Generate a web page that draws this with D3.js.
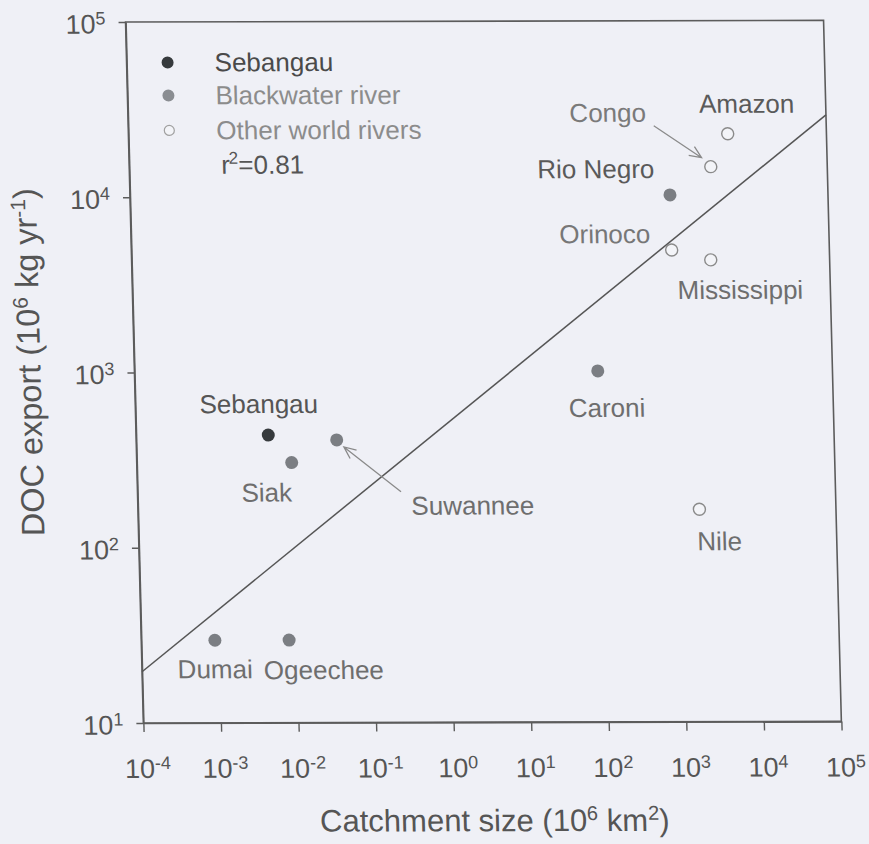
<!DOCTYPE html>
<html><head><meta charset="utf-8">
<script src="https://cdn.jsdelivr.net/npm/d3@7"></script>
<style>body{margin:0;background:#eff0f6}svg{display:block}</style>
</head><body>
<script>
// ---- data ----
const sebangauNames = ["Sebangau"];
const sebangauArea  = [0.00507];
const sebangauDOC   = [438];
const blackNames = ["Siak","Suwannee","Dumai","Ogeechee","Caroni","Rio Negro"];
const blackArea  = [0.00995, 0.0385, 0.00089, 0.00806, 94.2, 918];
const blackDOC   = [305, 410, 29.6, 29.6, 1007, 10140];
const otherNames = ["Congo","Amazon","Orinoco","Mississippi","Nile"];
const otherArea  = [3148, 5334, 926, 2931, 1734];
const otherDOC   = [14690, 22600, 4920, 4316, 163];
const fitArea = [1e-4, 1e5];
const fitDOC  = [19.6, 28900];
const xTickExp = [-4,-3,-2,-1,0,1,2,3,4,5];
const yTickExp = [1,2,3,4,5];
const legendLabels = ["Sebangau","Blackwater river","Other world rivers"];
const r2Value = "0.81";
const xTitle = ["Catchment size (10","6"," km","2",")"];
const yTitle = ["DOC export (10","6"," kg yr","-1",")"];

// ---- layout / style ----
const W = 869, H = 844;
const L = 143, R = 841, T = 22, B = 723;
const FONT = "'Liberation Sans', Arial, Helvetica, sans-serif";
const labelStyle = {
  "Sebangau":   {dx:-68, dy:-22, fill:"#555"},
  "Siak":       {dx:-51, dy:39, fill:"#6e6e6e"},
  "Suwannee":   {dx:73,  dy:75, fill:"#6e6e6e"},
  "Dumai":      {dx:-38, dy:38, fill:"#6e6e6e"},
  "Ogeechee":   {dx:-26, dy:39, fill:"#6e6e6e"},
  "Caroni":     {dx:-30, dy:46, fill:"#6e6e6e"},
  "Rio Negro":  {dx:-15, dy:-17, fill:"#5a5a5a", anchor:"end"},
  "Congo":      {dx:-140,dy:-45, fill:"#7a7a7a"},
  "Amazon":     {dx:-28, dy:-21, fill:"#5a5a5a"},
  "Orinoco":    {dx:-112,dy:-7, fill:"#777"},
  "Mississippi":{dx:-34, dy:39, fill:"#6e6e6e"},
  "Nile":       {dx:-3,  dy:41, fill:"#6e6e6e"}
};

const x = d3.scaleLog().domain([1e-4, 1e5]).range([L, R]);
const y = d3.scaleLog().domain([10, 1e5]).range([B, T]);

const svg = d3.select("body").append("svg").attr("width", W).attr("height", H);
svg.append("rect").attr("width", W).attr("height", H).attr("fill", "#eff0f6");

// slight scan distortion of the original figure
const g = svg.append("g")
  .attr("transform", "matrix(1,-0.0023,0.0254,1,-18,0.33)")
  .style("font-family", FONT);

// frame
g.append("rect").attr("x", L).attr("y", T).attr("width", R - L).attr("height", B - T)
  .attr("fill", "none").attr("stroke", "#5c5c5c").attr("stroke-width", 1.6);

// x axis
const xAxis = g.append("g").attr("transform", `translate(0,${B})`)
  .call(d3.axisBottom(x).tickValues(xTickExp.map(e => Math.pow(10, e)))
    .tickSize(9).tickSizeOuter(0).tickFormat(""));
xAxis.select(".domain").attr("stroke", "#5c5c5c").attr("stroke-width", 1.6);
xAxis.selectAll(".tick line").attr("stroke", "#5c5c5c").attr("stroke-width", 1.4);
xAxis.selectAll(".tick text").each(function(d, i) {
  const t = d3.select(this).text(null)
    .attr("y", 55).attr("dy", 0).attr("x", 3)
    .attr("text-anchor", "middle").attr("fill", "#555")
    .style("font-size", "27px").style("font-family", FONT);
  t.append("tspan").text("10");
  t.append("tspan").attr("dy", -9).style("font-size", "18px").text(String(xTickExp[i]));
});

// y axis
const yAxis = g.append("g").attr("transform", `translate(${L},0)`)
  .call(d3.axisLeft(y).tickValues(yTickExp.map(e => Math.pow(10, e)))
    .tickSize(7).tickSizeOuter(0).tickFormat(""));
yAxis.select(".domain").attr("stroke", "#5c5c5c").attr("stroke-width", 1.6);
yAxis.selectAll(".tick line").attr("stroke", "#5c5c5c").attr("stroke-width", 1.4);
yAxis.selectAll(".tick text").each(function(d, i) {
  const t = d3.select(this).text(null)
    .attr("x", -20).attr("y", 11).attr("dy", 0)
    .attr("text-anchor", "end").attr("fill", "#555")
    .style("font-size", "27px").style("font-family", FONT);
  t.append("tspan").text("10");
  t.append("tspan").attr("dy", -9).style("font-size", "18px").text(String(yTickExp[i]));
});

// axis titles
function supText(sel, parts, big, small, rise) {
  parts.forEach((p, i) => {
    const sup = i % 2 === 1;
    sel.append("tspan").text(p)
      .attr("dy", sup ? -rise : (i > 0 ? rise : null))
      .style("font-size", (sup ? small : big) + "px");
  });
}
const xt = g.append("text").attr("x", 492).attr("y", 832)
  .attr("text-anchor", "middle").attr("fill", "#555");
supText(xt, xTitle, 31, 20, 11);
const yt = g.append("text").attr("transform", "translate(49,362) rotate(-90)")
  .attr("text-anchor", "middle").attr("fill", "#555");
supText(yt, yTitle, 32.5, 21, 11);

// regression line
g.append("path")
  .datum(fitArea.map((a, i) => [a, fitDOC[i]]))
  .attr("d", d3.line().x(d => x(d[0])).y(d => y(d[1])))
  .attr("fill", "none").attr("stroke", "#555").attr("stroke-width", 1.5);

// points
const sebData = sebangauNames.map((n, i) => ({name: n, a: sebangauArea[i], v: sebangauDOC[i]}));
const blackData = blackNames.map((n, i) => ({name: n, a: blackArea[i], v: blackDOC[i]}));
const otherData = otherNames.map((n, i) => ({name: n, a: otherArea[i], v: otherDOC[i]}));

g.selectAll("circle.other").data(otherData).join("circle").attr("class", "other")
  .attr("cx", d => x(d.a)).attr("cy", d => y(d.v)).attr("r", 6)
  .attr("fill", "#f3f4f8").attr("stroke", "#8a8a8a").attr("stroke-width", 1.4);
g.selectAll("circle.black").data(blackData).join("circle").attr("class", "black")
  .attr("cx", d => x(d.a)).attr("cy", d => y(d.v)).attr("r", 6.5)
  .attr("fill", "#7b7e83");
g.selectAll("circle.seb").data(sebData).join("circle").attr("class", "seb")
  .attr("cx", d => x(d.a)).attr("cy", d => y(d.v)).attr("r", 6.5)
  .attr("fill", "#363a3d");

// point labels
g.selectAll("text.lab").data([...sebData, ...blackData, ...otherData]).join("text")
  .attr("class", "lab")
  .attr("x", d => x(d.a) + labelStyle[d.name].dx)
  .attr("y", d => y(d.v) + labelStyle[d.name].dy)
  .attr("text-anchor", d => labelStyle[d.name].anchor || "start")
  .attr("fill", d => labelStyle[d.name].fill)
  .style("font-size", "26px")
  .text(d => d.name);

// arrows (Congo, Suwannee)
function arrow(px, py, sx, sy, ex, ey) {
  const x0 = px + sx, y0 = py + sy, x1 = px + ex, y1 = py + ey;
  const ang = Math.atan2(y1 - y0, x1 - x0), len = 13, spread = 0.42;
  const a1 = [x1 - len * Math.cos(ang - spread), y1 - len * Math.sin(ang - spread)];
  const a2 = [x1 - len * Math.cos(ang + spread), y1 - len * Math.sin(ang + spread)];
  g.append("path")
    .attr("d", `M${x0},${y0}L${x1},${y1}M${a1[0]},${a1[1]}L${x1},${y1}L${a2[0]},${a2[1]}`)
    .attr("fill", "none").attr("stroke", "#8a8a8a").attr("stroke-width", 1.3);
}
const congo = otherData.find(d => d.name === "Congo");
arrow(x(congo.a), y(congo.v), -56, -41, -9, -9);
const suw = blackData.find(d => d.name === "Suwannee");
arrow(x(suw.a), y(suw.v), 63, 52, 7, 7);

// legend
const legY = [62.5, 95.5, 130.5];
const legFill = ["#363a3d", "#8a8d92", "#f3f4f8"];
const legText = ["#4a4a4a", "#8c8c8c", "#8c8c8c"];
legendLabels.forEach((lab, i) => {
  g.append("circle").attr("cx", 184).attr("cy", legY[i]).attr("r", i === 2 ? 5 : 6)
    .attr("fill", legFill[i])
    .attr("stroke", i === 2 ? "#a0a0a0" : "none").attr("stroke-width", 1.2);
  g.append("text").attr("x", 231).attr("y", legY[i] + 9)
    .attr("fill", legText[i]).style("font-size", "26px").text(lab);
});
const r2 = g.append("text").attr("x", 235).attr("y", 174).attr("fill", "#555").style("font-size", "26px");
r2.append("tspan").text("r");
r2.append("tspan").attr("dy", -10).attr("dx", -1).style("font-size", "17px").text("2");
r2.append("tspan").attr("dy", 10).text("=" + r2Value);
</script>
</body></html>
